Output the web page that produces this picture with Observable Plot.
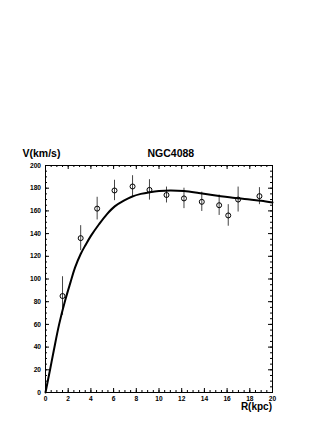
<!DOCTYPE html>
<html>
<head>
<meta charset="utf-8">
<script src="https://cdn.jsdelivr.net/npm/d3@7"></script>
<script src="https://cdn.jsdelivr.net/npm/@observablehq/plot@0.6"></script>
<style>
  html, body { margin: 0; padding: 0; background: #fff; }
  #chart { position: relative; width: 327px; height: 423px; }
  svg { font-family: "Liberation Sans", Arial, sans-serif; }
</style>
</head>
<body>
<div id="chart"></div>
<script>
// Observed rotation curve points (R in kpc, V in km/s, error in km/s)
const obsR   = [1.5, 3.1, 4.55, 6.08, 7.67, 9.16, 10.66, 12.2, 13.77, 15.3, 16.1, 16.97, 18.85];
const obsV   = [85, 136, 162, 178, 181.5, 178.5, 174, 171, 168, 165, 156, 170, 173];
const obsErr = [17, 11, 10, 9, 9.5, 9, 7, 9, 8.5, 9, 9.5, 11, 7.5];

// Model curve
const modR = [0, 0.4, 0.73, 1.2, 1.73, 2.2, 2.6, 3.1, 3.5, 4.0, 4.7, 5.4, 6.1, 6.9, 7.6, 8.4, 9.2, 10.0, 11.0, 12.2, 13.5, 15.0, 16.5, 18.0, 19.0, 20.0];
const modV = [0, 20, 37, 60, 81, 97, 110, 122, 129.5, 138, 148, 157, 164, 169, 172.5, 175, 176.5, 177.5, 178, 177.5, 175.8, 173.5, 171.5, 170, 169, 167.5];

// Axis ticks
const xMajor = [0, 2, 4, 6, 8, 10, 12, 14, 16, 18, 20];
const xMinor = d3.range(0, 20.001, 0.5);
const yMajor = [0, 20, 40, 60, 80, 100, 120, 140, 160, 180, 200];
const yMinor = d3.range(0, 200.001, 5);

const obs = obsR.map((r, i) => ({r, v: obsV[i], lo: obsV[i] - obsErr[i], hi: obsV[i] + obsErr[i]}));
const model = modR.map((r, i) => ({r, v: modV[i]}));

const W = 327, H = 423;
const mL = 45, mR = 55, mT = 165, mB = 31;
const pw = W - mL - mR, ph = H - mT - mB;
const bigTick = 4, smallTick = 2;

const tickFont = {fontSize: 6.6, fontWeight: "bold", fill: "#000"};

const chart = Plot.plot({
  width: W, height: H,
  marginLeft: mL, marginRight: mR, marginTop: mT, marginBottom: mB,
  x: {domain: [0, 20]},
  y: {domain: [0, 200]},
  style: {fontFamily: "Liberation Sans, Arial, sans-serif", color: "#000", background: "#fff"},
  marks: [
    // minor ticks (inside)
    Plot.tickX(xMinor, {x: d => d, insetTop: ph - smallTick, stroke: "#000"}),
    Plot.tickX(xMinor, {x: d => d, insetBottom: ph - smallTick, stroke: "#000"}),
    Plot.tickY(yMinor, {y: d => d, insetRight: pw - smallTick, stroke: "#000"}),
    Plot.tickY(yMinor, {y: d => d, insetLeft: pw - smallTick, stroke: "#000"}),
    // major ticks (inside)
    Plot.tickX(xMajor, {x: d => d, insetTop: ph - bigTick, stroke: "#000"}),
    Plot.tickX(xMajor, {x: d => d, insetBottom: ph - bigTick, stroke: "#000"}),
    Plot.tickY(yMajor, {y: d => d, insetRight: pw - bigTick, stroke: "#000"}),
    Plot.tickY(yMajor, {y: d => d, insetLeft: pw - bigTick, stroke: "#000"}),
    Plot.frame({stroke: "#000", strokeWidth: 1}),
    Plot.axisX({ticks: xMajor, tickSize: 0, tickPadding: 4, tickFormat: d => d, ...tickFont, label: null}),
    Plot.axisY({ticks: yMajor, tickSize: 0, tickPadding: 4.5, tickFormat: d => d, ...tickFont, label: null}),
    // error bars
    Plot.ruleX(obs, {x: "r", y1: "lo", y2: "hi", stroke: "#444", strokeWidth: 1}),
    // model curve
    Plot.line(model, {x: "r", y: "v", stroke: "#000", strokeWidth: 2, curve: "catmull-rom"}),
    // points
    Plot.dot(obs, {x: "r", y: "v", r: 2.5, stroke: "#000", strokeWidth: 1, fill: "none"}),
  ]
});

const svg = d3.select(chart);
svg.append("text").attr("x", 22.5).attr("y", 156.5).attr("text-anchor", "start")
  .attr("font-size", 10.5).attr("font-weight", "bold").attr("fill", "#000")
  .text("V(km/s)");
svg.append("text").attr("x", 147.5).attr("y", 156.5).attr("text-anchor", "start")
  .attr("font-size", 10.5).attr("font-weight", "bold").attr("fill", "#000")
  .text("NGC4088");
svg.append("text").attr("x", 272).attr("y", 410).attr("text-anchor", "end")
  .attr("font-size", 10).attr("font-weight", "bold").attr("fill", "#000")
  .text("R(kpc)");

document.getElementById("chart").appendChild(chart);
</script>
</body>
</html>
